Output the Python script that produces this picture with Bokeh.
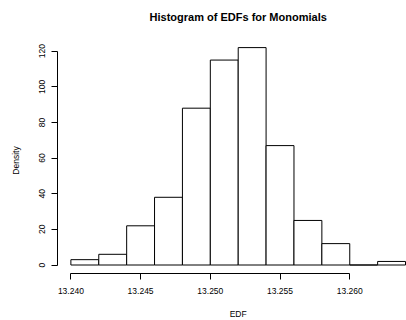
from bokeh.plotting import figure
from bokeh.models import Range1d, FixedTicker, NumeralTickFormatter, Label
from bokeh.embed import file_html
from bokeh.resources import INLINE

# ---- data ----
bin_left = [13.240, 13.242, 13.244, 13.246, 13.248, 13.250,
            13.252, 13.254, 13.256, 13.258, 13.260, 13.262]
bin_right = [13.242, 13.244, 13.246, 13.248, 13.250, 13.252,
             13.254, 13.256, 13.258, 13.260, 13.262, 13.264]
density = [3, 6, 22, 38, 88, 115, 122, 67, 25, 12, 0, 2]

x_ticks = [13.240, 13.245, 13.250, 13.255, 13.260]
x_tick_labels = ["13.240", "13.245", "13.250", "13.255", "13.260"]
y_ticks = [0, 20, 40, 60, 80, 100, 120]

title_text = "Histogram of EDFs for Monomials"
x_label = "EDF"
y_label = "Density"

FONT = "Liberation Sans"
W, H = 406, 320

# R-style plot region (4% padding); the region is cropped at the right
x_span = max(bin_right) - min(bin_left)
xr_lo = min(bin_left) - 0.04 * x_span
xr_hi = max(bin_right) + 0.04 * x_span
yr_lo = -0.04 * max(density)
yr_hi = max(density) * 1.04

# pixel layout of the R plot region inside the picture
left_px, top_px, bottom_px, rregion_right_px = 57.3, 38.4, 273.2, 418.4
sx = (rregion_right_px - left_px) / (xr_hi - xr_lo)
sy = (bottom_px - top_px) / (yr_hi - yr_lo)
x_end = xr_lo + (W - left_px) / sx
# the frame spans the full height so that title and x label can sit inside it
y_end = yr_hi + top_px / sy
y_start = yr_lo - (H - bottom_px) / sy
x_mid = (xr_lo + xr_hi) / 2

p = figure(width=W, height=H, output_backend="svg", toolbar_location=None,
           x_range=Range1d(xr_lo, x_end), y_range=Range1d(y_start, y_end),
           min_border_left=57, min_border_right=0, min_border_top=0,
           min_border_bottom=0)
p.outline_line_color = None
p.background_fill_color = "white"
p.border_fill_color = "white"
p.xgrid.visible = False
p.ygrid.visible = False

p.quad(left=bin_left, right=bin_right, bottom=0, top=density,
       fill_color="white", line_color="black", line_width=1)

# x axis, drawn at the bottom of the R plot region
xa = p.xaxis[0]
xa.fixed_location = yr_lo
xa.ticker = FixedTicker(ticks=x_ticks)
xa.formatter = NumeralTickFormatter(format="0.000")
xa.major_label_overrides = {t: l for t, l in zip(x_ticks, x_tick_labels)}
xa.bounds = (min(x_ticks), max(x_ticks))
xa.minor_tick_line_color = None
xa.major_tick_in = 0
xa.major_tick_out = 6
xa.major_label_standoff = 8
xa.major_label_text_font = FONT
xa.major_label_text_font_size = "8.5px"
xa.major_label_text_color = "black"
xa.axis_line_color = "black"
xa.major_tick_line_color = "black"

# y axis
ya = p.yaxis[0]
ya.ticker = FixedTicker(ticks=y_ticks)
ya.bounds = (min(y_ticks), max(y_ticks))
ya.minor_tick_line_color = None
ya.major_tick_in = 0
ya.major_tick_out = 6
ya.major_label_standoff = 6
ya.major_label_orientation = "vertical"
ya.major_label_text_font = FONT
ya.major_label_text_font_size = "8.5px"
ya.major_label_text_color = "black"
ya.axis_label = y_label
ya.axis_label_text_font = FONT
ya.axis_label_text_font_size = "8.5px"
ya.axis_label_text_font_style = "normal"
ya.axis_label_text_color = "black"
ya.axis_label_standoff = 16
ya.axis_line_color = "black"
ya.major_tick_line_color = "black"

# title and x label centred on the R plot region
p.add_layout(Label(x=x_mid, y=y_end - 16 / sy, text=title_text,
                   text_align="center", text_baseline="alphabetic",
                   text_font=FONT, text_font_size="11px",
                   text_font_style="bold", text_color="black"))
p.add_layout(Label(x=x_mid, y=y_end - 313.5 / sy, text=x_label,
                   text_align="center", text_baseline="alphabetic",
                   text_font=FONT, text_font_size="8.5px",
                   text_color="black"))

open("out.html", "w").write(file_html(p, INLINE))
